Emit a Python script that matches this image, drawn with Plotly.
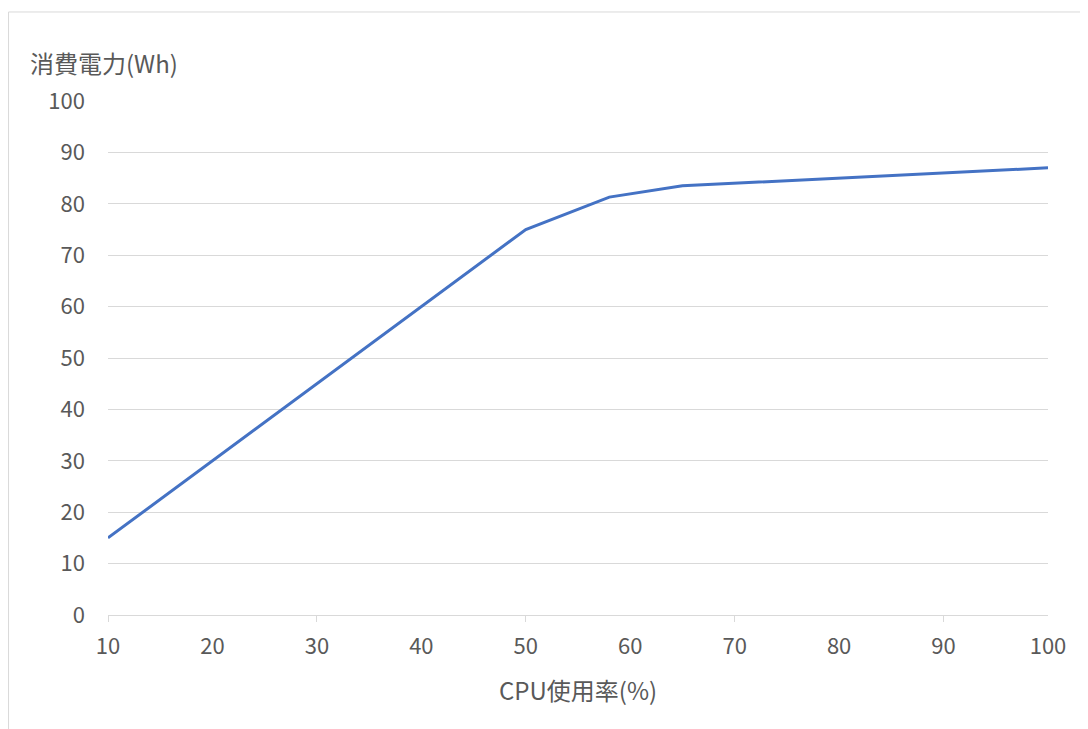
import plotly.graph_objects as go

cpu_usage = [10, 50, 58, 65, 100]
power_wh = [15, 75, 81.3, 83.5, 87]
x_tick_labels = [10, 20, 30, 40, 50, 60, 70, 80, 90, 100]
x_tick_marks = [10, 30, 50, 70, 90]
y_tick_labels = [0, 10, 20, 30, 40, 50, 60, 70, 80, 90, 100]
y_title = "消費電力(Wh)"
x_title = "CPU使用率(%)"

FONT = "Noto Sans CJK JP"
TXT = "#595959"
GRID = "#d9d9d9"

fig = go.Figure()
fig.add_trace(go.Scatter(x=cpu_usage, y=power_wh, mode="lines",
                         line=dict(color="#4472C4", width=3), showlegend=False))
# invisible trace to activate tick-mark axis
fig.add_trace(go.Scatter(x=[10, 100], y=[0, 0], xaxis="x2", mode="lines",
                         line=dict(width=0), hoverinfo="skip", showlegend=False))

fig.update_layout(
    width=1088, height=729,
    margin=dict(l=100, r=48, t=93, b=122),
    paper_bgcolor="white", plot_bgcolor="white",
    font=dict(family=FONT, color=TXT, size=22),
    xaxis=dict(range=[10, 100], tickvals=x_tick_labels, showgrid=False,
               showline=True, linecolor=GRID, linewidth=1, zeroline=False,
               ticks="", ticklabelstandoff=12,
               tickfont=dict(family=FONT, size=22, color=TXT)),
    xaxis2=dict(range=[10, 100], overlaying="x", side="bottom",
                tickvals=x_tick_marks, ticks="outside", ticklen=6,
                tickcolor=GRID, tickwidth=1, showticklabels=False,
                showgrid=False, zeroline=False, showline=False),
    yaxis=dict(range=[0, 100], tickvals=y_tick_labels, showgrid=True,
               gridcolor=GRID, gridwidth=1, zeroline=False, showline=False,
               ticks="", ticklabelstandoff=22,
               tickfont=dict(family=FONT, size=22, color=TXT)),
    annotations=[
        dict(text=y_title, xref="paper", yref="paper", x=-0.0851, y=1.074,
             xanchor="left", yanchor="middle", showarrow=False,
             font=dict(family=FONT, size=24, color=TXT)),
        dict(text=x_title, xref="paper", yref="paper", x=0.5, y=-0.144,
             xanchor="center", yanchor="middle", showarrow=False,
             font=dict(family=FONT, size=24, color=TXT)),
    ],
    shapes=[dict(type="rect", xref="paper", yref="paper",
                 x0=-0.1058, x1=1.2, y0=-0.5, y1=1.1732,
                 line=dict(color=GRID, width=1), layer="below")],
)

fig.write_html("out.html")
